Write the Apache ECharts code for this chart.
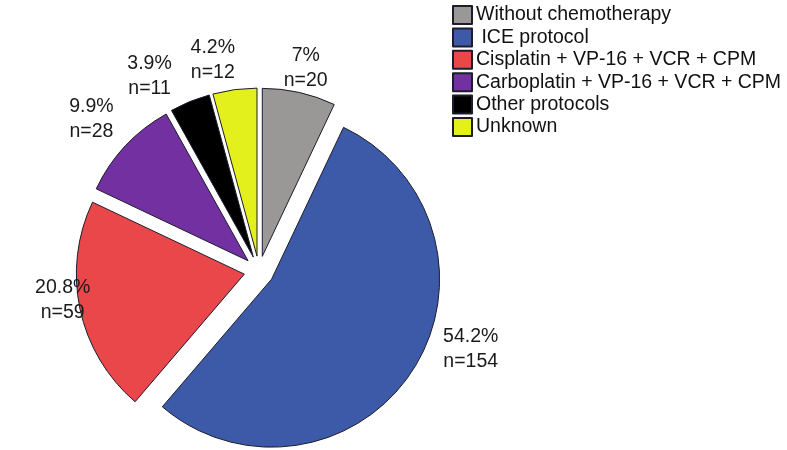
<!DOCTYPE html>
<html>
<head>
<meta charset="utf-8">
<script src="https://cdn.jsdelivr.net/npm/echarts@6/dist/echarts.min.js"></script>
<style>html,body{margin:0;padding:0;background:#fff;}#c{width:787px;height:450px;}</style>
</head>
<body>
<div id="c"></div>
<script>
const categories = ['Without chemotherapy', ' ICE protocol', 'Cisplatin + VP-16 + VCR + CPM', 'Carboplatin + VP-16 + VCR + CPM', 'Other protocols', 'Unknown'];
const counts = [20, 154, 59, 28, 11, 12];
const percentLabels = ['7%', '54.2%', '20.8%', '9.9%', '3.9%', '4.2%'];
const colors = ['#9a9797', '#3d5aa8', '#e94749', '#7230a0', '#000000', '#e3f01c'];
const labelNudge = [[0, 5], [33, -38], [12, -15], [-12, -6], [-29, 2], [-18, 0]];

const chart = echarts.init(document.getElementById('c'), null, {renderer: 'canvas'});
const data = categories.map((name, i) => ({
  name: name,
  value: counts[i],
  selected: true,
  itemStyle: {color: colors[i]}
}));
chart.setOption({
  animation: false,
  backgroundColor: '#ffffff',
  legend: {
    orient: 'vertical',
    left: 452,
    top: 5,
    padding: 0,
    itemWidth: 19,
    itemHeight: 18,
    itemGap: 2.4,
    icon: 'rect',
    selectedMode: false,
    textStyle: {fontFamily: 'Liberation Sans', fontSize: 19.5, color: '#111', lineHeight: 18, padding: [0, 0, 0, -1]},
    data: categories
  },
  series: [{
    type: 'pie',
    center: [259, 271],
    radius: 168,
    startAngle: 90,
    clockwise: true,
    selectedMode: 'multiple',
    selectedOffset: 15,
    avoidLabelOverlap: false,
    itemStyle: {borderColor: '#1c1c2c', borderWidth: 1},
    label: {
      show: true,
      position: 'outside',
      distanceToLabelLine: 0,
      fontFamily: 'Liberation Sans',
      fontSize: 19.5,
      lineHeight: 25,
      color: '#1a1a1a',
      formatter: p => percentLabels[p.dataIndex] + '\nn=' + p.value
    },
    labelLine: {show: false, length: 30, length2: 0},
    labelLayout: function (p) {
      const n = labelNudge[p.dataIndex];
      return {align: 'center', dx: n[0], dy: n[1]};
    },
    emphasis: {disabled: true},
    data: data
  }]
});
</script>
</body>
</html>
